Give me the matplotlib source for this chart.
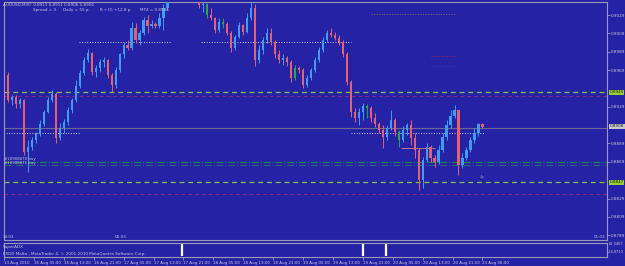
import numpy as np
import matplotlib.pyplot as plt

# AUDUSD M30 candles (resampled), prices
first_open = 0.8964
closes = [0.8936, 0.8940, 0.8932, 0.8936, 0.8880, 0.8885, 0.8893, 0.8899, 0.8910, 0.8923,
          0.8936, 0.8943, 0.8895, 0.8906, 0.8912, 0.8926, 0.8936, 0.8952, 0.8966, 0.8980,
          0.8988, 0.8967, 0.8971, 0.8978, 0.8980, 0.8964, 0.8953, 0.8969, 0.8986, 0.8996,
          0.8993, 0.9015, 0.9002, 0.9009, 0.9024, 0.9017, 0.9019, 0.9017, 0.9026, 0.9037,
          0.9051, 0.9062, 0.9073, 0.9067, 0.9078, 0.9069, 0.9062, 0.9054, 0.9040, 0.9041,
          0.9029, 0.9026, 0.9013, 0.9021, 0.9019, 0.9009, 0.8993, 0.9005, 0.9018, 0.9011,
          0.9026, 0.9037, 0.8980, 0.8991, 0.9002, 0.9009, 0.9000, 0.8986, 0.8980, 0.8982,
          0.8978, 0.8960, 0.8971, 0.8969, 0.8953, 0.8960, 0.8969, 0.8980, 0.8991, 0.9002,
          0.9009, 0.9007, 0.9004, 0.9000, 0.8986, 0.8956, 0.8923, 0.8917, 0.8923, 0.8930,
          0.8928, 0.8917, 0.8910, 0.8904, 0.8896, 0.8906, 0.8915, 0.8902, 0.8893, 0.8904,
          0.8909, 0.8895, 0.8882, 0.8849, 0.8871, 0.8885, 0.8873, 0.8869, 0.8882, 0.8896,
          0.8909, 0.8919, 0.8926, 0.8866, 0.8873, 0.8882, 0.8893, 0.8900, 0.8910, 0.8907]
highs = [0.8967, 0.8942, 0.8942, 0.8939, 0.8937, 0.8893, 0.8896, 0.8902, 0.8915, 0.8926,
         0.8940, 0.8947, 0.8945, 0.8911, 0.8916, 0.8929, 0.8939, 0.8958, 0.8969, 0.8983,
         0.8992, 0.8989, 0.8975, 0.8981, 0.8983, 0.8981, 0.8966, 0.8972, 0.8988, 0.9000,
         0.9002, 0.9021, 0.9020, 0.9013, 0.9027, 0.9029, 0.9024, 0.9021, 0.9031, 0.9041,
         0.9056, 0.9067, 0.9078, 0.9078, 0.9084, 0.9084, 0.9072, 0.9064, 0.9059, 0.9043,
         0.9042, 0.9037, 0.9027, 0.9026, 0.9026, 0.9021, 0.9012, 0.9007, 0.9021, 0.9019,
         0.9031, 0.9043, 0.9041, 0.8996, 0.9005, 0.9015, 0.9015, 0.9002, 0.8991, 0.8986,
         0.8984, 0.8980, 0.8975, 0.8973, 0.8971, 0.8964, 0.8971, 0.8983, 0.8994, 0.9005,
         0.9013, 0.9015, 0.9011, 0.9007, 0.9002, 0.8989, 0.8958, 0.8928, 0.8928, 0.8933,
         0.8932, 0.8930, 0.8922, 0.8912, 0.8909, 0.8909, 0.8926, 0.8917, 0.8904, 0.8908,
         0.8911, 0.8915, 0.8900, 0.8884, 0.8874, 0.8890, 0.8887, 0.8876, 0.8887, 0.8900,
         0.8915, 0.8926, 0.8931, 0.8926, 0.8879, 0.8885, 0.8896, 0.8906, 0.8911, 0.8911]
lows = [0.8934, 0.8931, 0.8928, 0.8928, 0.8876, 0.8858, 0.8882, 0.8890, 0.8897, 0.8908,
        0.8922, 0.8934, 0.8890, 0.8893, 0.8900, 0.8909, 0.8922, 0.8934, 0.8949, 0.8964,
        0.8978, 0.8964, 0.8961, 0.8967, 0.8972, 0.8960, 0.8945, 0.8949, 0.8967, 0.8982,
        0.8991, 0.8991, 0.8999, 0.8996, 0.9007, 0.9009, 0.9015, 0.9015, 0.9015, 0.9013,
        0.9035, 0.9052, 0.9062, 0.9062, 0.9065, 0.9062, 0.9056, 0.9050, 0.9037, 0.9032,
        0.9026, 0.9024, 0.9009, 0.9011, 0.9015, 0.9007, 0.8989, 0.8991, 0.9004, 0.9007,
        0.9009, 0.9024, 0.8973, 0.8977, 0.8986, 0.8999, 0.8996, 0.8982, 0.8977, 0.8975,
        0.8973, 0.8956, 0.8958, 0.8966, 0.8949, 0.8951, 0.8958, 0.8967, 0.8978, 0.8989,
        0.9000, 0.9005, 0.9002, 0.8996, 0.8983, 0.8953, 0.8918, 0.8912, 0.8909, 0.8915,
        0.8917, 0.8912, 0.8907, 0.8900, 0.8884, 0.8893, 0.8904, 0.8897, 0.8885, 0.8891,
        0.8898, 0.8887, 0.8873, 0.8838, 0.8840, 0.8869, 0.8869, 0.8863, 0.8867, 0.8880,
        0.8893, 0.8906, 0.8917, 0.8855, 0.8862, 0.8871, 0.8880, 0.8890, 0.8897, 0.8906]
green_bars = [50, 54, 72, 90, 98]

price_ticks = [0.9029, 0.9009, 0.8989, 0.8969, 0.8929, 0.8889, 0.8869, 0.8829, 0.8809, 0.8789]
boxed = [(0.8945, '#9acd32'), (0.8908, '#c8c8c8'), (0.8847, '#9acd32')]

time_labels = ["13 Aug 2010", "16 Aug 05:00", "16 Aug 13:00", "16 Aug 21:00", "17 Aug 05:00",
               "17 Aug 13:00", "17 Aug 21:00", "18 Aug 05:00", "18 Aug 13:00", "18 Aug 21:00",
               "19 Aug 05:00", "19 Aug 13:00", "19 Aug 21:00", "20 Aug 05:00", "20 Aug 13:00",
               "20 Aug 21:00", "23 Aug 06:00"]
adx_bars = [43.75, 89.0, 94.75]

bg = '#2622a6'
frame = '#9a9ab4'
txt = '#c8c8d8'

W, H = 625, 266
fig = plt.figure(figsize=(W / 100, H / 100), dpi=100, facecolor=bg)

def px(x, y):
    return x / W, 1 - y / H

ax = fig.add_axes([4 / W, 1 - 240 / H, 603 / W, 238 / H], facecolor=bg)
sub = fig.add_axes([4 / W, 1 - 257 / H, 603 / W, 14 / H], facecolor=bg, sharex=ax)

opens = [first_open] + closes[:-1]
n = len(closes)
xs = np.arange(n)
for i in range(n):
    o, c = opens[i], closes[i]
    if i in green_bars:
        col = '#1fae3c'
    elif c >= o:
        col = '#3d9df0'
    else:
        col = '#ea5f6e'
    ax.vlines(xs[i], lows[i], highs[i], color=col, lw=0.7, zorder=3)
    ax.bar(xs[i], max(abs(c - o), 0.00006), bottom=min(o, c), width=0.55, color=col, zorder=3, lw=0)

# horizontal levels
ax.axhline(0.8945, color='#86c43c', lw=0.9, dashes=(4, 3), zorder=2)
ax.axhline(0.8941, color='#8a2a80', lw=0.7, dashes=(4, 3), zorder=2)
ax.axhline(0.8847, color='#86c43c', lw=0.9, dashes=(4, 3), zorder=2)
ax.axhline(0.8834, color='#8a2a80', lw=0.7, dashes=(4, 3), zorder=2)
ax.axhline(0.8869, color='#1e8a3c', lw=0.8, ls='-.', zorder=2)
ax.axhline(0.8865, color='#2a6a72', lw=0.8, ls='-.', zorder=2)
ax.axhline(0.8906, color='#6a6a8c', lw=0.8, zorder=2)

ax.hlines(0.9000, 17.75, 41, color='#d0d0d0', lw=0.7, ls=':', zorder=2)
ax.hlines(0.9000, 48.5, 86, color='#d0d0d0', lw=0.7, ls=':', zorder=2)
ax.hlines(0.8900, -0.5, 17.75, color='#d0d0d0', lw=0.7, ls=':', zorder=2)
ax.hlines(0.8900, 86, 119.5, color='#d0d0d0', lw=0.7, ls=':', zorder=2)
ax.hlines(0.9030, 91, 112.5, color='#8a6a6a', lw=0.7, ls=':', zorder=2)
ax.hlines(0.8984, 106, 112.5, color='#a02a4a', lw=0.7, ls=':', zorder=2)
ax.hlines(0.8973, 106, 112.5, color='#3a3ac8', lw=0.7, ls=':', zorder=2)
ax.hlines(0.8884, 98.5, 107, color='#b07a8a', lw=0.7, zorder=2)

ax.set_xlim(-0.5, 150.25)
ax.set_ylim(0.87838, 0.90432)
ax.yaxis.tick_right()
ax.set_yticks(price_ticks)
ax.set_yticklabels(["%.4f" % p for p in price_ticks])
ax.tick_params(axis='y', colors=frame, labelcolor=txt, labelsize=3.0, length=2, width=0.6, pad=1)
ax.tick_params(axis='x', bottom=False, labelbottom=False)
for s in ax.spines.values():
    s.set_color(frame)
    s.set_linewidth(0.8)

for p, c in boxed:
    ax.text(1.0045, p, "%.4f" % p, transform=ax.get_yaxis_transform(), fontsize=3.0,
            color='#202020', va='center', ha='left',
            bbox=dict(boxstyle='square,pad=0.12', fc=c, ec='none'))

sub.vlines(adx_bars, 0.05, 0.95, color='white', lw=1.6)
sub.set_ylim(0, 1)
sub.set_yticks([])
sub.set_xticks(np.arange(len(time_labels)) * 7.5 - 1)
sub.set_xticklabels(time_labels, ha='left')
sub.tick_params(axis='x', colors=frame, labelcolor=txt, labelsize=2.9, length=2, width=0.6, pad=1)
for s in sub.spines.values():
    s.set_color(frame)
    s.set_linewidth(0.8)

def t(x, y, s, **kw):
    kw.setdefault('fontsize', 3.0)
    kw.setdefault('color', txt)
    fig.text(*px(x, y), s, va='center', **kw)

t(3, 5, "AUDUSD,M30  0.8911 0.8911 0.8906 0.8906")
t(33, 10, "Spread = 3.")
t(63, 10, "Daily = 55 p")
t(100, 10, "R +15 +12.8 p")
t(140, 10, "MT4 = 0.8906")
t(4, 159, "#10908670 buy", fontsize=2.8)
t(4, 163, "#10908671 buy", fontsize=2.8)
t(480, 177, "4p", fontsize=2.8, color='#9090b0')
t(3, 237, "14:03")
t(115, 237, "05:03")
t(605, 237, "01:03", ha='right')
t(3, 247, "SuperADX", fontsize=3.0)
t(3, 254, "FXDD Malta - MetaTrader 4, \u00a9 2001-2010 MetaQuotes Software Corp.", fontsize=3.0)
t(609, 244, "62.3467", fontsize=2.6)
t(608, 252, "-24.8713", fontsize=2.5)

plt.savefig("out.png", dpi=100, facecolor=bg)
